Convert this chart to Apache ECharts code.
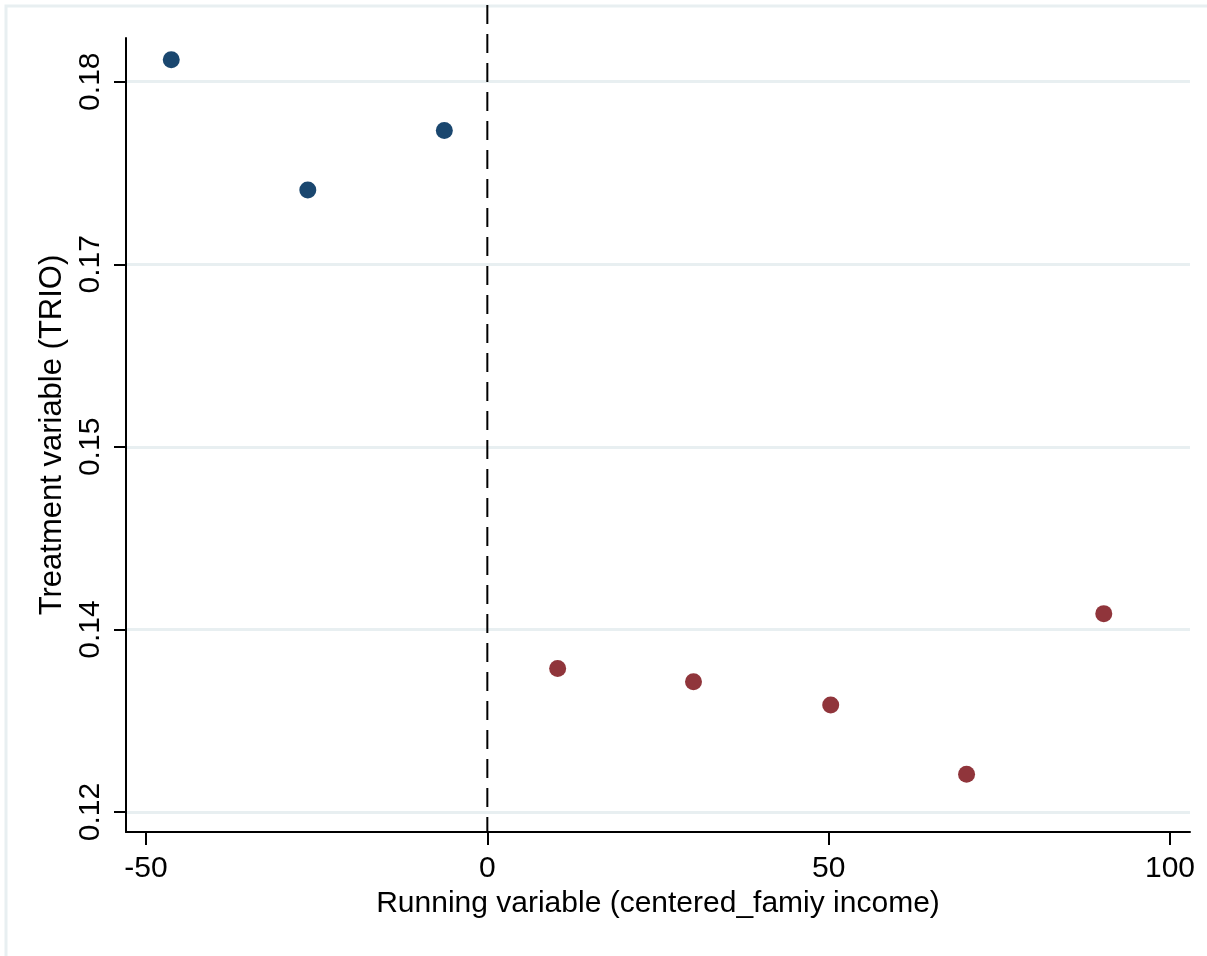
<!DOCTYPE html>
<html>
<head>
<meta charset="utf-8">
<script src="https://cdn.jsdelivr.net/npm/echarts@6/dist/echarts.min.js"></script>
<style>
    html, body { margin: 0; padding: 0; background: #fff; }
    #chart { width: 1207px; height: 956px; }
</style>
</head>
<body>
<div id="chart"></div>
<script>
// bins left of the cutoff (blue) and right of it (red)
const leftX = [-46.3, -26.3, -6.3];
const leftY = [0.1818, 0.1711, 0.1760];
const rightX = [10.3, 30.2, 50.3, 70.2, 90.3];
const rightY = [0.1318, 0.1307, 0.1288, 0.1231, 0.1363];

const xTicks = [-50, 0, 50, 100];
const yTicks = [0.12, 0.135, 0.15, 0.165, 0.18];
const yTickLabels = ['0.12', '0.14', '0.15', '0.17', '0.18'];
const cutoff = 0;

const font = 'Liberation Sans, Arial, sans-serif';
const gridColor = '#e8eff1';

let chart = echarts.init(document.getElementById('chart'));

let option = {
    animation: false,
    backgroundColor: '#fff',
    graphic: [
        {
            // outer graph region border
            type: 'rect',
            shape: { x: 6, y: 6, width: 1220, height: 970 },
            style: { fill: 'none', stroke: gridColor, lineWidth: 3 },
            silent: true
        }
    ],
    grid: [
        { left: 126, right: 17, top: 38, bottom: 124 },
        { left: 126, right: 17, top: 5, bottom: 124 }
    ],
    xAxis: [
        {
            type: 'value',
            gridIndex: 0,
            min: -52.93,
            max: 102.93,
            name: 'Running variable (centered_famiy income)',
            nameLocation: 'middle',
            nameGap: 55,
            nameTextStyle: { fontFamily: font, fontSize: 30, color: '#000' },
            axisLine: { show: true, onZero: false, lineStyle: { color: '#000', width: 2 } },
            axisTick: { show: true, length: 13, customValues: xTicks, lineStyle: { color: '#000', width: 2 } },
            axisLabel: {
                customValues: xTicks,
                margin: 22,
                fontFamily: font,
                fontSize: 30,
                color: '#000',
                formatter: v => String(v)
            },
            splitLine: { show: false }
        },
        {
            type: 'value',
            gridIndex: 1,
            min: -52.93,
            max: 102.93,
            show: false
        }
    ],
    yAxis: [
        {
            type: 'value',
            gridIndex: 0,
            min: 0.11836,
            max: 0.18359,
            name: 'Treatment variable (TRIO)',
            nameLocation: 'middle',
            nameRotate: 90,
            nameGap: 50,
            nameTextStyle: { fontFamily: font, fontSize: 31, color: '#000' },
            axisLine: { show: true, onZero: false, lineStyle: { color: '#000', width: 2 } },
            axisTick: { show: true, length: 12, customValues: yTicks, lineStyle: { color: '#000', width: 2 } },
            axisLabel: {
                customValues: yTicks,
                rotate: 90,
                margin: 20,
                fontFamily: font,
                fontSize: 30,
                color: '#000',
                formatter: v => {
                    let i = yTicks.findIndex(t => Math.abs(t - v) < 1e-9);
                    return i >= 0 ? yTickLabels[i] : '';
                }
            },
            splitLine: { show: true, lineStyle: { color: gridColor, width: 3 } }
        },
        {
            type: 'value',
            gridIndex: 1,
            min: 0,
            max: 1,
            show: false
        }
    ],
    series: [
        {
            // cutoff line, spans the full height above the plot
            type: 'line',
            xAxisIndex: 1,
            yAxisIndex: 1,
            data: [[cutoff, 1], [cutoff, 0]],
            symbol: 'none',
            lineStyle: { color: '#000', width: 2, type: [19, 10] },
            z: 1
        },
        {
            type: 'scatter',
            xAxisIndex: 0,
            yAxisIndex: 0,
            data: leftX.map((x, i) => [x, leftY[i]]),
            symbol: 'circle',
            symbolSize: 17,
            itemStyle: { color: '#1a476f', opacity: 1 },
            z: 3
        },
        {
            type: 'scatter',
            xAxisIndex: 0,
            yAxisIndex: 0,
            data: rightX.map((x, i) => [x, rightY[i]]),
            symbol: 'circle',
            symbolSize: 17,
            itemStyle: { color: '#90353b', opacity: 1 },
            z: 3
        }
    ]
};

chart.setOption(option);
</script>
</body>
</html>
